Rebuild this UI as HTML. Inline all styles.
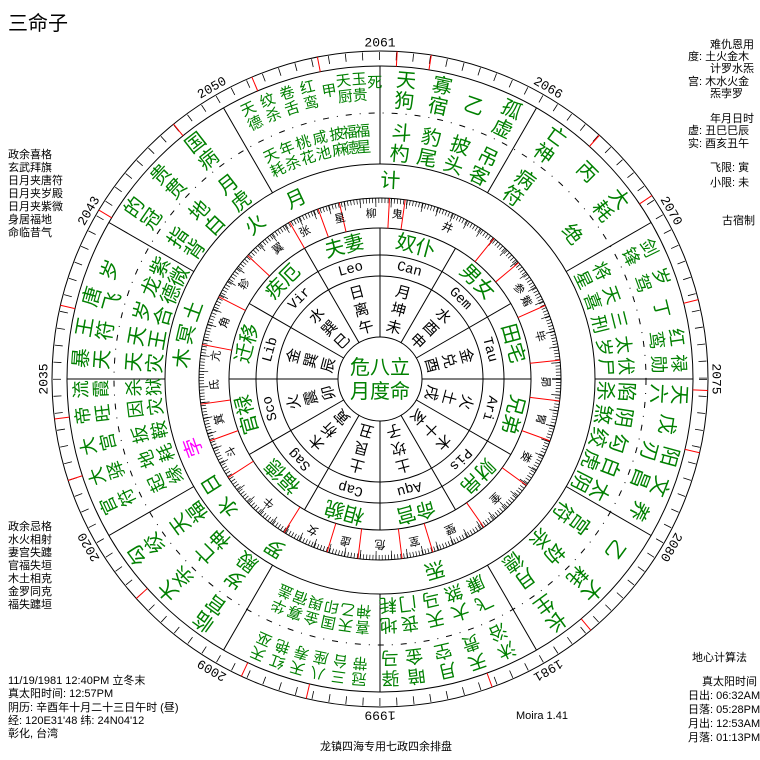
<!DOCTYPE html>
<html><head><meta charset="utf-8"><style>
body{margin:0;background:#fff;width:760px;height:760px;overflow:hidden}
svg{display:block}
text{font-family:"Liberation Sans","Noto Sans CJK SC",sans-serif}
.g text,.g{fill:#008000;font-size:20px;text-anchor:middle;dominant-baseline:central}
.s text,.s{fill:#008000;font-size:15px;text-anchor:middle;dominant-baseline:central}
.m text,.m{fill:#008000;font-size:18px;text-anchor:middle;dominant-baseline:central}
.k text,.k{fill:#000;font-size:15px;text-anchor:middle;dominant-baseline:central}
.x text,.x{fill:#000;font-size:11px;text-anchor:middle;dominant-baseline:central}
.z text,.z{fill:#000;font-size:14px;font-family:"Liberation Mono",monospace;text-anchor:middle;dominant-baseline:central}
.y text,.y{fill:#000;font-size:13px;font-family:"Liberation Mono",monospace;text-anchor:middle;dominant-baseline:central}
.inf{font-size:11px;fill:#000}
</style></head><body>
<svg width="760" height="760" viewBox="0 0 760 760">
<text x="8" y="30" style="font-size:20px">三命子</text>
<g class="inf">
<text x="8" y="158">政余喜格</text><text x="8" y="171">玄武拜旗</text><text x="8" y="184">日月夹唐符</text><text x="8" y="197">日月夹岁殿</text><text x="8" y="210">日月夹紫微</text><text x="8" y="223">身居福地</text><text x="8" y="236">命临昔气</text>
<text x="8" y="530">政余忌格</text><text x="8" y="543">水火相射</text><text x="8" y="556">妻宫失躔</text><text x="8" y="569">官福失垣</text><text x="8" y="582">木土相克</text><text x="8" y="595">金罗同克</text><text x="8" y="608">福失躔垣</text>
<text x="8" y="684">11/19/1981 12:40PM 立冬末</text><text x="8" y="697">真太阳时间: 12:57PM</text><text x="8" y="711">阴历: 辛酉年十月二十三日午时 (昼)</text><text x="8" y="724">经: 120E31'48  纬: 24N04'12</text><text x="8" y="737">彰化, 台湾</text>
<text x="710" y="48">难仇恩用</text><text x="688" y="60">度: 土火金木</text><text x="710" y="72">计罗水炁</text><text x="688" y="85">宫: 木水火金</text><text x="710" y="97">炁孛罗</text>
<text x="710" y="122">年月日时</text><text x="688" y="134">虚: 丑巳巳辰</text><text x="688" y="147">实: 酉亥丑午</text>
<text x="710" y="171">飞限: 寅</text><text x="710" y="186">小限: 未</text><text x="722" y="224">古宿制</text>
<text x="692" y="661">地心计算法</text><text x="702" y="685">真太阳时间</text><text x="688" y="699">日出: 06:32AM</text><text x="688" y="713">日落: 05:28PM</text><text x="688" y="727">月出: 12:53AM</text><text x="688" y="741">月落: 01:13PM</text>
<text x="516" y="719">Moira 1.41</text><text x="320" y="750">龙镇四海专用七政四余排盘</text>
</g>
<g transform="translate(380,379)" fill="none" stroke="#000">
<circle r="328"/><circle r="313"/><circle r="215"/><circle r="181"/><circle r="151"/><circle r="124"/><circle r="103"/><circle r="42"/>
<circle r="266" stroke-dasharray="6 8 1 8"/>
<circle r="323" stroke-width="8" stroke-dasharray="0.8 16.1"/>
<circle r="178.5" stroke-width="5" stroke-dasharray="0.7 2.42"/>
<circle r="176.5" stroke-width="9" stroke-dasharray="0.7 14.9"/>
<g id="d1"><line y1="-215" y2="-313"/><line y1="-42" y2="-151"/></g>
<use href="#d1" transform="rotate(30)"/><use href="#d1" transform="rotate(60)"/><use href="#d1" transform="rotate(90)"/><use href="#d1" transform="rotate(120)"/><use href="#d1" transform="rotate(150)"/><use href="#d1" transform="rotate(180)"/><use href="#d1" transform="rotate(210)"/><use href="#d1" transform="rotate(240)"/><use href="#d1" transform="rotate(270)"/><use href="#d1" transform="rotate(300)"/><use href="#d1" transform="rotate(330)"/>
<g stroke="#f00">
<line y1="-151" y2="-181" transform="rotate(340)"/><line y1="-151" y2="-181" transform="rotate(347)"/><line y1="-151" y2="-181" transform="rotate(3)"/><line y1="-151" y2="-181" transform="rotate(8)"/><line y1="-151" y2="-181" transform="rotate(39)"/><line y1="-151" y2="-181" transform="rotate(50)"/><line y1="-151" y2="-181" transform="rotate(66)"/><line y1="-151" y2="-181" transform="rotate(84)"/><line y1="-151" y2="-181" transform="rotate(97)"/><line y1="-151" y2="-181" transform="rotate(110)"/><line y1="-151" y2="-181" transform="rotate(126)"/><line y1="-151" y2="-181" transform="rotate(145)"/><line y1="-151" y2="-181" transform="rotate(163)"/><line y1="-151" y2="-181" transform="rotate(173)"/><line y1="-151" y2="-181" transform="rotate(187)"/><line y1="-151" y2="-181" transform="rotate(197)"/><line y1="-151" y2="-181" transform="rotate(212)"/><line y1="-151" y2="-181" transform="rotate(237)"/><line y1="-151" y2="-181" transform="rotate(250)"/><line y1="-151" y2="-181" transform="rotate(262)"/><line y1="-151" y2="-181" transform="rotate(281)"/><line y1="-151" y2="-181" transform="rotate(297)"/><line y1="-151" y2="-181" transform="rotate(313)"/><line y1="-151" y2="-181" transform="rotate(330)"/>
<line y1="-313" y2="-328" transform="rotate(9)"/><line y1="-313" y2="-328" transform="rotate(3)"/><line y1="-313" y2="-328" transform="rotate(349)"/><line y1="-313" y2="-328" transform="rotate(337)"/><line y1="-313" y2="-328" transform="rotate(56)"/><line y1="-313" y2="-328" transform="rotate(42)"/><line y1="-313" y2="-328" transform="rotate(76)"/><line y1="-313" y2="-328" transform="rotate(92)"/><line y1="-313" y2="-328" transform="rotate(103)"/><line y1="-313" y2="-328" transform="rotate(140)"/><line y1="-313" y2="-328" transform="rotate(160)"/><line y1="-313" y2="-328" transform="rotate(193)"/><line y1="-313" y2="-328" transform="rotate(205)"/><line y1="-313" y2="-328" transform="rotate(228)"/><line y1="-313" y2="-328" transform="rotate(252)"/><line y1="-313" y2="-328" transform="rotate(263)"/><line y1="-313" y2="-328" transform="rotate(283)"/><line y1="-313" y2="-328" transform="rotate(301)"/><line y1="-313" y2="-328" transform="rotate(321)"/>
</g>
</g>
<g transform="translate(380,379)" stroke="none">
<g class="y">
<text transform="rotate(0) translate(0,-336)">2061</text><text transform="rotate(30) translate(0,-336)">2066</text><text transform="rotate(60) translate(0,-336)">2070</text><text transform="rotate(90) translate(0,-336)">2075</text><text transform="rotate(120) translate(0,-336)">2080</text><text transform="rotate(150) translate(0,-336)">1981</text><text transform="rotate(180) translate(0,-336)">1999</text><text transform="rotate(210) translate(0,-336)">2009</text><text transform="rotate(240) translate(0,-336)">2020</text><text transform="rotate(270) translate(0,-336)">2035</text><text transform="rotate(300) translate(0,-336)">2043</text><text transform="rotate(330) translate(0,-336)">2050</text>
</g>
<g class="g">
<g transform="rotate(5)"><text y="-299">天</text><text y="-278">狗</text><text y="-246">斗</text><text y="-225">杓</text></g>
<g transform="rotate(12)"><text y="-299">寡</text><text y="-278">宿</text><text y="-246">豹</text><text y="-225">尾</text></g>
<g transform="rotate(19)"><text y="-288">乙</text><text y="-246">披</text><text y="-225">头</text></g>
<g transform="rotate(26)"><text y="-299">孤</text><text y="-278">虚</text><text y="-246">吊</text><text y="-225">客</text></g>
<g transform="rotate(36)"><text y="-299">亡</text><text y="-278">神</text><text y="-246">病</text><text y="-225">符</text></g>
<g transform="rotate(45)"><text y="-292">丙</text></g>
<g transform="rotate(53)"><text y="-299">大</text><text y="-278">耗</text><text y="-240">绝</text></g>
<g transform="rotate(93)"><text y="-299">天</text><text y="-278">六</text><text y="-246">陷</text><text y="-225">杀</text></g>
<g transform="rotate(99)"><text y="-290">戊</text><text y="-246">阴</text><text y="-225">煞</text></g>
<g transform="rotate(105)"><text y="-299">阳</text><text y="-278">刃</text><text y="-246">勾</text><text y="-225">绞</text></g>
<g transform="rotate(111)"><text y="-299">文</text><text y="-278">昌</text><text y="-246">白</text><text y="-225">虎</text></g>
<g transform="rotate(117)"><text y="-290">养</text><text y="-246">太</text><text y="-225">阴</text></g>
<g transform="rotate(126)"><text y="-290">乙</text><text y="-246">宫</text><text y="-225">符</text></g>
<g transform="rotate(135)"><text y="-299">大</text><text y="-278">耗</text><text y="-246">劫</text><text y="-225">杀</text></g>
<g transform="rotate(144)"><text y="-299">长</text><text y="-278">生</text><text y="-246">月</text><text y="-225">德</text></g>
<g transform="rotate(216)"><text y="-299">临</text><text y="-278">官</text><text y="-246">岁</text><text y="-225">殿</text></g>
<g transform="rotate(225)"><text y="-299">大</text><text y="-278">杀</text><text y="-246">亡</text><text y="-225">神</text></g>
<g transform="rotate(234)"><text y="-299">勾</text><text y="-278">绞</text><text y="-246">天</text><text y="-225">福</text></g>
<g transform="rotate(274)"><text y="-299">暴</text><text y="-278">天</text><text y="-246">天</text><text y="-225">灾</text></g>
<g transform="rotate(280)"><text y="-299">王</text><text y="-278">符</text><text y="-246">天</text><text y="-225">王</text></g>
<g transform="rotate(286)"><text y="-299">唐</text><text y="-278">飞</text><text y="-246">岁</text><text y="-225">合</text></g>
<g transform="rotate(292)"><text y="-290">岁</text><text y="-246">龙</text><text y="-225">德</text></g>
<g transform="rotate(297)"><text y="-246">紫</text><text y="-225">微</text></g>
<g transform="rotate(305)"><text y="-299">的</text><text y="-278">冠</text><text y="-246">指</text><text y="-225">背</text></g>
<g transform="rotate(313)"><text y="-299">贵</text><text y="-278">贯</text><text y="-246">地</text><text y="-225">白</text></g>
<g transform="rotate(322)"><text y="-299">国</text><text y="-278">病</text><text y="-246">月</text><text y="-225">虎</text></g>
</g>
<g class="m">
<g transform="rotate(64)"><text y="-299">剑</text><text y="-279">锋</text><text y="-246">将</text><text y="-226">星</text></g>
<g transform="rotate(70)"><text y="-299">岁</text><text y="-279">驾</text><text y="-246">天</text><text y="-226">喜</text></g>
<g transform="rotate(76)"><text y="-290">丁</text><text y="-246">三</text><text y="-226">刑</text></g>
<g transform="rotate(82)"><text y="-299">红</text><text y="-279">鸾</text><text y="-246">太</text><text y="-226">岁</text></g>
<g transform="rotate(87)"><text y="-299">禄</text><text y="-279">勋</text><text y="-246">伏</text><text y="-226">尸</text></g>
<g transform="rotate(155)"><text y="-299">沐</text><text y="-279">浴</text><text y="-246">飞</text><text y="-226">廉</text></g>
<g transform="rotate(161)"><text y="-299">天</text><text y="-279">贵</text><text y="-246">大</text><text y="-226">煞</text></g>
<g transform="rotate(167)"><text y="-299">月</text><text y="-279">空</text><text y="-246">天</text><text y="-226">马</text></g>
<g transform="rotate(173)"><text y="-299">暗</text><text y="-279">金</text><text y="-246">丧</text><text y="-226">门</text></g>
<g transform="rotate(178)"><text y="-299">驿</text><text y="-279">马</text><text y="-246">地</text><text y="-226">耗</text></g>
<g transform="rotate(245)"><text y="-299">官</text><text y="-279">符</text><text y="-246">起</text><text y="-226">缘</text></g>
<g transform="rotate(251)"><text y="-299">大</text><text y="-279">驿</text><text y="-246">地</text><text y="-226">耗</text></g>
<g transform="rotate(257)"><text y="-299">大</text><text y="-279">宫</text><text y="-246">扳</text><text y="-226">鞍</text></g>
<g transform="rotate(263)"><text y="-299">帝</text><text y="-279">旺</text><text y="-246">因</text><text y="-226">灾</text></g>
<g transform="rotate(268)"><text y="-299">流</text><text y="-279">霞</text><text y="-246">杀</text><text y="-226">狱</text></g>
</g>
<g class="s">
<g transform="rotate(334)"><text y="-300">天</text><text y="-284">德</text><text y="-248">天</text><text y="-232">耗</text></g>
<g transform="rotate(338)"><text y="-300">纹</text><text y="-284">杀</text><text y="-248">年</text><text y="-232">杀</text></g>
<g transform="rotate(342)"><text y="-300">卷</text><text y="-284">舌</text><text y="-248">桃</text><text y="-232">花</text></g>
<g transform="rotate(346)"><text y="-300">红</text><text y="-284">鸾</text><text y="-248">咸</text><text y="-232">池</text></g>
<g transform="rotate(350)"><text y="-292">甲</text><text y="-248">披</text><text y="-232">麻</text></g>
<g transform="rotate(353)"><text y="-300">天</text><text y="-284">厨</text><text y="-248">福</text><text y="-232">德</text></g>
<g transform="rotate(356)"><text y="-300">玉</text><text y="-284">贵</text><text y="-248">福</text><text y="-232">星</text></g>
<g transform="rotate(359)"><text y="-296">死</text></g>
<g transform="rotate(184)"><text y="-300">冠</text><text y="-284">带</text><text y="-248">喜</text><text y="-232">神</text></g>
<g transform="rotate(188)"><text y="-300">三</text><text y="-284">台</text><text y="-248">天</text><text y="-232">乙</text></g>
<g transform="rotate(192)"><text y="-300">八</text><text y="-284">座</text><text y="-248">国</text><text y="-232">印</text></g>
<g transform="rotate(196)"><text y="-300">天</text><text y="-284">寿</text><text y="-248">金</text><text y="-232">舆</text></g>
<g transform="rotate(200)"><text y="-300">红</text><text y="-284">艳</text><text y="-248">寡</text><text y="-232">宿</text></g>
<g transform="rotate(204)"><text y="-300">天</text><text y="-284">巫</text><text y="-248">华</text><text y="-232">盖</text></g>
</g>
<g class="g">
<text transform="rotate(3) translate(0,-198)">计</text>
<text transform="rotate(335) translate(0,-198)">月</text>
<text transform="rotate(321) translate(0,-198)">火</text>
<text transform="rotate(276) translate(0,-198)">木</text>
<text transform="rotate(283) translate(0,-198)">冥</text>
<text transform="rotate(290) translate(0,-198)">土</text>
<text transform="rotate(250) translate(0,-198)" style="fill:#f0f">孛</text>
<text transform="rotate(238) translate(0,-198)">日</text>
<text transform="rotate(230) translate(0,-198)">水</text>
<text transform="rotate(212) translate(0,-198)">罗</text>
<text transform="rotate(164) translate(0,-198)">炁</text>
</g>
<g class="g">
<text transform="rotate(-15) translate(0,-137)">夫妻</text>
<text transform="rotate(15) translate(0,-137)">奴仆</text>
<text transform="rotate(45) translate(0,-137)">男女</text>
<text transform="rotate(75) translate(0,-137)">田宅</text>
<text transform="rotate(105) translate(0,-137)">兄弟</text>
<text transform="rotate(135) translate(0,-137)">财帛</text>
<text transform="rotate(165) translate(0,-137)">命宫</text>
<text transform="rotate(195) translate(0,-137)">相貌</text>
<text transform="rotate(225) translate(0,-137)">福德</text>
<text transform="rotate(255) translate(0,-137)">官禄</text>
<text transform="rotate(285) translate(0,-137)">迁移</text>
<text transform="rotate(315) translate(0,-137)">疾厄</text>
</g>
<g class="z">
<text transform="rotate(15) translate(0,-113)">Can</text><text transform="rotate(45) translate(0,-113)">Gem</text><text transform="rotate(75) translate(0,-113)">Tau</text><text transform="rotate(105) translate(0,-113)">Ari</text><text transform="rotate(135) translate(0,-113)">Pis</text><text transform="rotate(165) translate(0,-113)">Aqu</text><text transform="rotate(195) translate(0,-113)">Cap</text><text transform="rotate(225) translate(0,-113)">Sag</text><text transform="rotate(255) translate(0,-113)">Sco</text><text transform="rotate(285) translate(0,-113)">Lib</text><text transform="rotate(315) translate(0,-113)">Vir</text><text transform="rotate(345) translate(0,-113)">Leo</text>
</g>
<g class="k">
<g transform="rotate(15)"><text y="-89">月</text><text y="-71">坤</text><text y="-53">未</text></g>
<g transform="rotate(45)"><text y="-89">水</text><text y="-71">酉</text><text y="-53">申</text></g>
<g transform="rotate(75)"><text y="-89">金</text><text y="-71">兑</text><text y="-53">酉</text></g>
<g transform="rotate(105)"><text y="-89">火</text><text y="-71">土</text><text y="-53">戌</text></g>
<g transform="rotate(135)"><text y="-89">木</text><text y="-71">十</text><text y="-53">亥</text></g>
<g transform="rotate(165)"><text y="-89">土</text><text y="-71">坎</text><text y="-53">子</text></g>
<g transform="rotate(195)"><text y="-89">土</text><text y="-71">艮</text><text y="-53">丑</text></g>
<g transform="rotate(225)"><text y="-89">木</text><text y="-71">析</text><text y="-53">寅</text></g>
<g transform="rotate(255)"><text y="-89">火</text><text y="-71">震</text><text y="-53">卯</text></g>
<g transform="rotate(285)"><text y="-89">金</text><text y="-71">巽</text><text y="-53">辰</text></g>
<g transform="rotate(315)"><text y="-89">水</text><text y="-71">巽</text><text y="-53">巳</text></g>
<g transform="rotate(345)"><text y="-89">日</text><text y="-71">离</text><text y="-53">午</text></g>
</g>
<g class="x">
<text transform="rotate(357) translate(0,-165)">柳</text><text transform="rotate(346) translate(0,-165)">星</text><text transform="rotate(6) translate(0,-165)">鬼</text><text transform="rotate(24) translate(0,-165)">井</text><text transform="rotate(57) translate(0,-165)">参</text><text transform="rotate(62) translate(0,-165)">觜</text><text transform="rotate(75) translate(0,-165)">毕</text><text transform="rotate(91) translate(0,-165)">昴</text><text transform="rotate(104) translate(0,-165)">胃</text><text transform="rotate(118) translate(0,-165)">娄</text><text transform="rotate(136) translate(0,-165)">奎</text><text transform="rotate(155) translate(0,-165)">壁</text><text transform="rotate(168) translate(0,-165)">室</text><text transform="rotate(180) translate(0,-165)">危</text><text transform="rotate(192) translate(0,-165)">虚</text><text transform="rotate(204) translate(0,-165)">女</text><text transform="rotate(222) translate(0,-165)">牛</text><text transform="rotate(244) translate(0,-165)">斗</text><text transform="rotate(256) translate(0,-165)">箕</text><text transform="rotate(268) translate(0,-165)">氐</text><text transform="rotate(278) translate(0,-165)">亢</text><text transform="rotate(290) translate(0,-165)">角</text><text transform="rotate(305) translate(0,-165)">轸</text><text transform="rotate(322) translate(0,-165)">翼</text><text transform="rotate(333) translate(0,-165)">张</text>
</g>
<g class="g"><text x="0" y="-11">危八立</text><text x="0" y="13">月度命</text></g>
</g>
</svg>
</body></html>
